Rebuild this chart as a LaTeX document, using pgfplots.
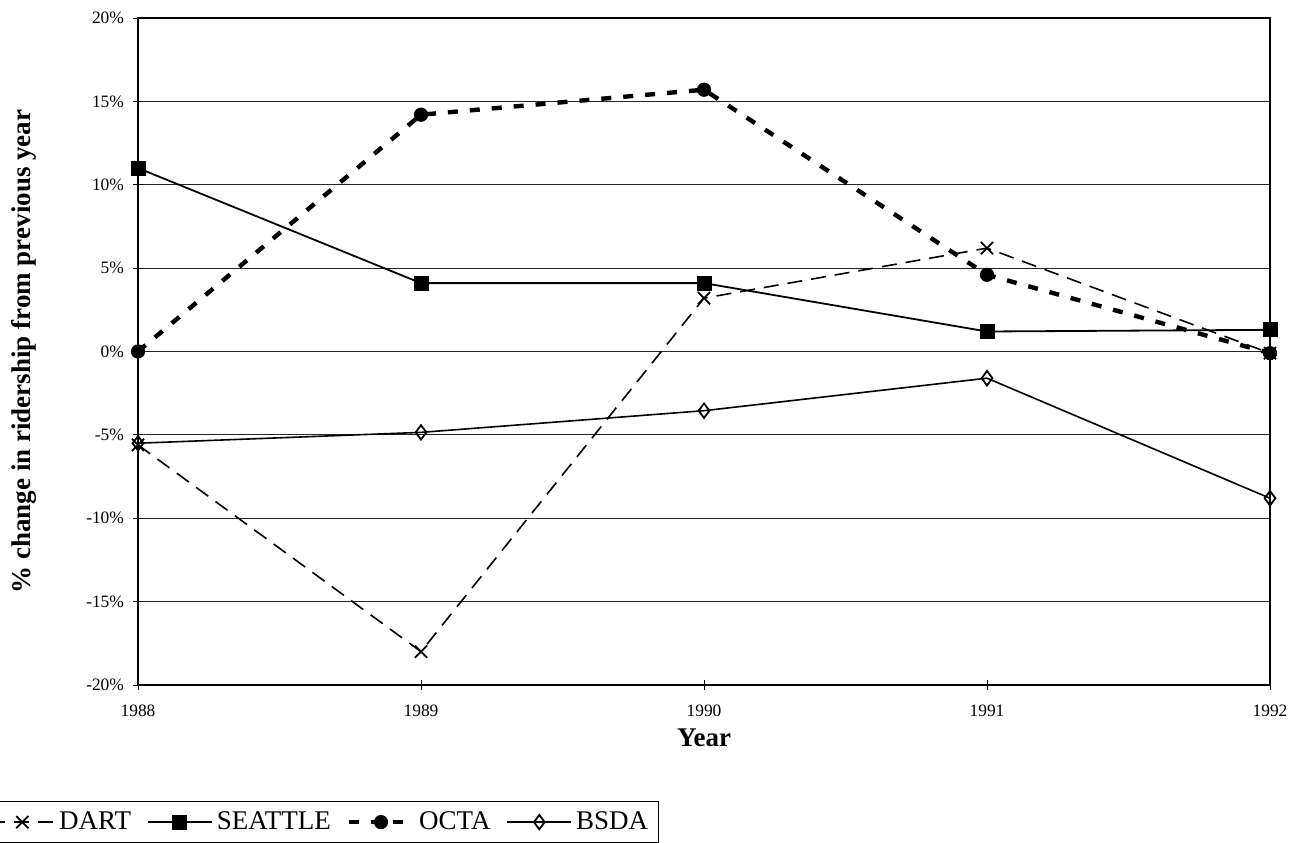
\documentclass[border=0pt]{standalone}
\usepackage{fontspec}
\setmainfont{Liberation Serif}
\usepackage{pgfplots}
\pgfplotsset{compat=1.18}
\begin{document}
\begin{tikzpicture}
\useasboundingbox (0,0) rectangle (646.5pt,421pt);
\begin{axis}[
 at={(69pt,78.5pt)}, anchor=south west,
 scale only axis, width=566pt, height=333.5pt,
 xmin=1988, xmax=1992, ymin=-20, ymax=20,
 xtick={1988,1989,1990,1991,1992},
 xticklabels={1988,1989,1990,1991,1992},
 ytick={-20,-15,...,20},
 /pgf/number format/assume math mode=true,
 yticklabel={\pgfmathprintnumber{\tick}\%},
 tick align=center, major tick length=5pt, tick pos=left,
 tick style={black, line width=0.5pt},
 ymajorgrids, grid style={black!85, line width=0.5pt},
 axis line style={black, line width=0.6pt},
 ticklabel style={font=\fontsize{8.7}{10}\selectfont},
 xticklabel style={yshift=-4pt},
 yticklabel style={xshift=-1pt},
 xlabel={\textbf{Year}},
 ylabel={\textbf{\% change in ridership from previous year}},
 label style={font=\fontsize{13.5}{16}\selectfont},
 xlabel style={at={(axis description cs:0.5,-0.0795)},anchor=center},
 ylabel style={at={(axis description cs:-0.1005,0.5)},anchor=center},
 legend columns=4,
 legend style={at={(axis description cs:-0.137,-0.174)}, anchor=north west, draw=black, line width=0.6pt, font=\fontsize{13.5}{15}\selectfont, /tikz/every even column/.append style={column sep=6pt}, inner sep=3pt},
 legend image code/.code={\draw[mark repeat=2,mark phase=2,#1] plot coordinates {(0pt,0pt)(16pt,0pt)(32pt,0pt)};},
]
\addplot[black, line width=0.8pt, dash pattern=on 7.5pt off 4.5pt, mark=x, mark size=4.3pt, mark options={solid, line width=0.9pt}] coordinates {(1988,-5.6)(1989,-18.0)(1990,3.2)(1991,6.2)(1992,-0.1)};
\addlegendentry{DART}
\addplot[black, line width=0.9pt, mark=square*, mark size=3.3pt, mark options={solid}] coordinates {(1988,11.0)(1989,4.1)(1990,4.1)(1991,1.2)(1992,1.3)};
\addlegendentry{SEATTLE}
\addplot[black, line width=2.2pt, dash pattern=on 5pt off 6pt, mark=*, mark size=3.3pt, mark options={solid, line width=0.5pt}] coordinates {(1988,0.0)(1989,14.2)(1990,15.7)(1991,4.6)(1992,-0.1)};
\addlegendentry{OCTA}
\addplot[black, line width=0.8pt, mark=diamond, mark size=3.6pt, mark options={solid, fill=white, line width=0.9pt}] coordinates {(1988,-5.5)(1989,-4.85)(1990,-3.55)(1991,-1.6)(1992,-8.8)};
\addlegendentry{BSDA}
\end{axis}
\end{tikzpicture}
\end{document}
